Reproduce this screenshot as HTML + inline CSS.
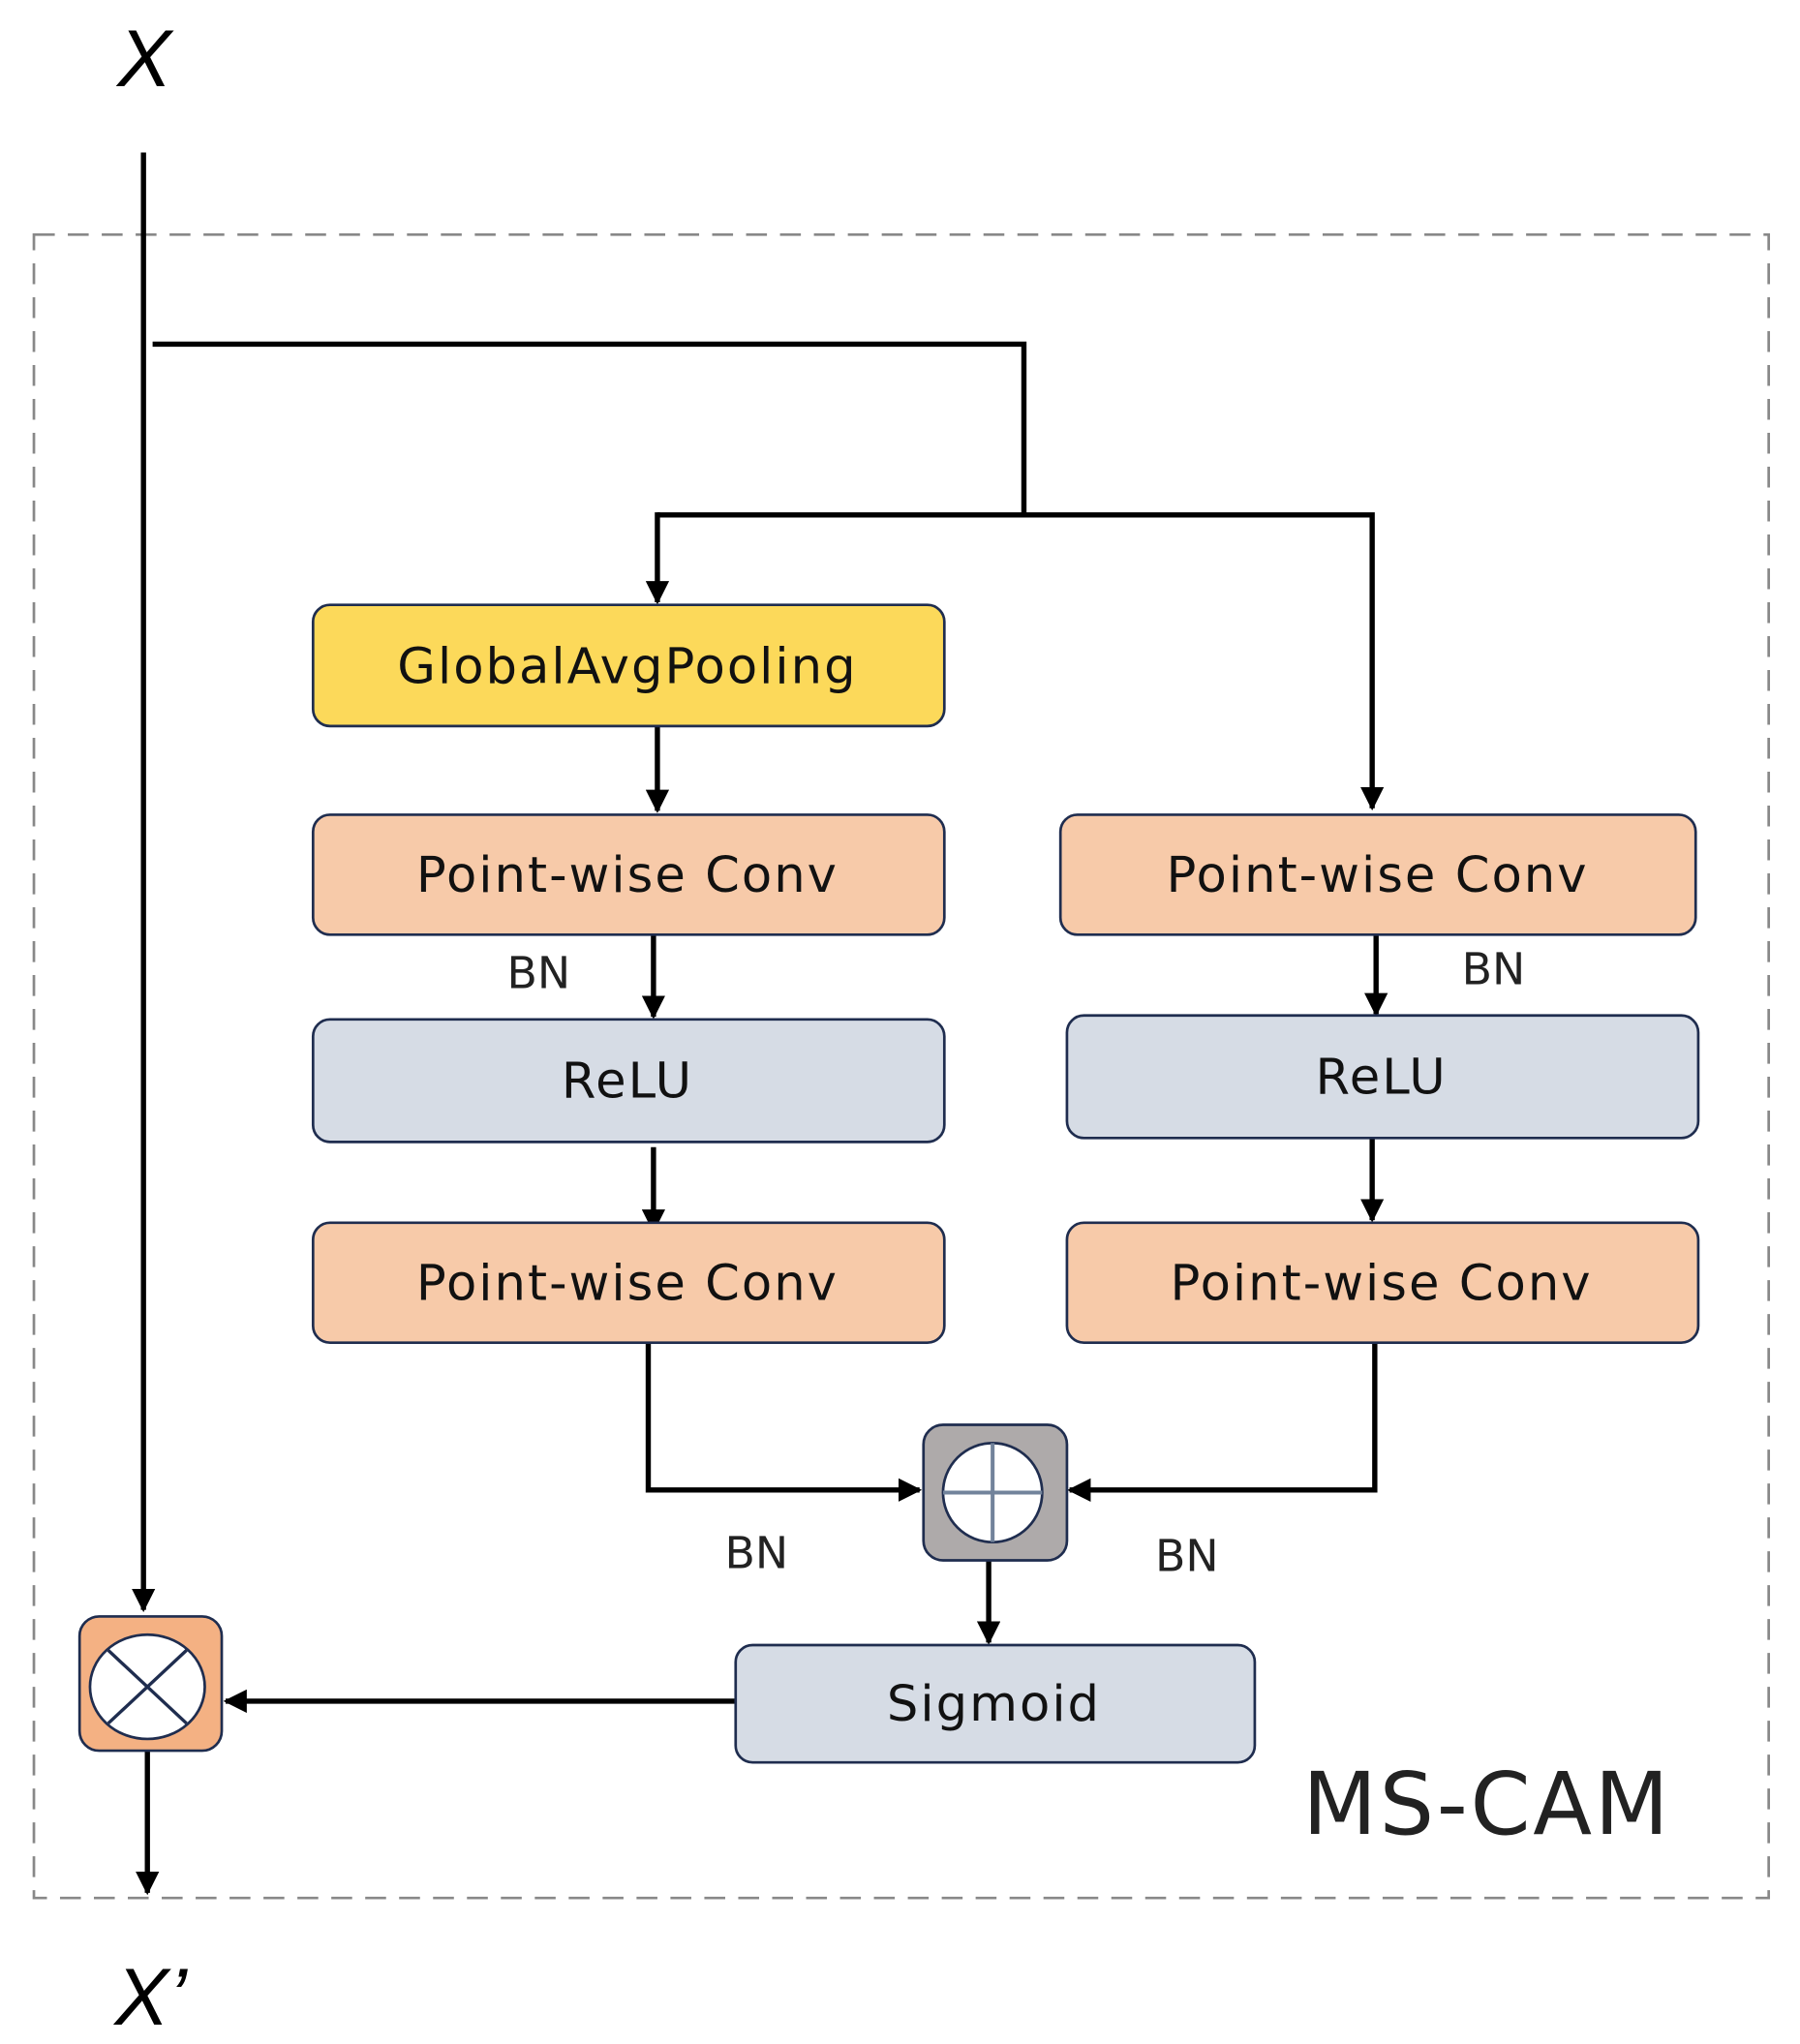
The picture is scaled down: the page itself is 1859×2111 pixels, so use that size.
<!DOCTYPE html>
<html><head><meta charset="utf-8"><style>html,body{margin:0;padding:0;background:#fff}svg{display:block}</style></head><body>
<svg width="1859" height="2111" viewBox="0 0 1380 1568" preserveAspectRatio="none" xmlns="http://www.w3.org/2000/svg" font-family="'DejaVu Sans','Liberation Sans',sans-serif">
<defs><marker id="a" viewBox="0 0 10 10" refX="9" refY="5" markerWidth="4.5" markerHeight="4.5" orient="auto"><path d="M0,0L10,5L0,10z" fill="#000"/></marker></defs>
<rect x="26" y="180" width="1330" height="1276" fill="none" stroke="#888" stroke-width="2" stroke-dasharray="16,10"/>
<text x="90" y="66" font-family="'Liberation Sans',sans-serif" font-style="italic" font-size="62" font-weight="normal">X</text>
<text x="88" y="1553" font-family="'Liberation Sans',sans-serif" font-style="italic" font-size="62">X’</text>
<g stroke="#000" stroke-width="4" fill="none">
<line x1="110" y1="117" x2="110" y2="1235" marker-end="url(#a)"/>
<polyline points="117,264 785,264 785,395"/>
<polyline points="504,395 1052,395 1052,620" marker-end="url(#a)"/>
<line x1="504" y1="393" x2="504" y2="462" marker-end="url(#a)"/>
<line x1="504" y1="557" x2="504" y2="622" marker-end="url(#a)"/>
<line x1="501" y1="717" x2="501" y2="780" marker-end="url(#a)"/>
<line x1="501" y1="880" x2="501" y2="944" marker-end="url(#a)"/>
<line x1="1055" y1="717" x2="1055" y2="778" marker-end="url(#a)"/>
<line x1="1052" y1="873" x2="1052" y2="936" marker-end="url(#a)"/>
<polyline points="497,1030 497,1143 705,1143" marker-end="url(#a)"/>
<polyline points="1054,1030 1054,1143 820,1143" marker-end="url(#a)"/>
<line x1="758" y1="1197" x2="758" y2="1260" marker-end="url(#a)"/>
<line x1="564" y1="1305" x2="173" y2="1305" marker-end="url(#a)"/>
<line x1="113" y1="1343" x2="113" y2="1452" marker-end="url(#a)"/>
</g>
<g stroke="#1f2d4f" stroke-width="2">
<rect x="240" y="464" width="484" height="93" rx="13" fill="#fcd95a"/>
<rect x="240" y="625" width="484" height="92" rx="13" fill="#f7caa9"/>
<rect x="240" y="782" width="484" height="94" rx="13" fill="#d6dce5"/>
<rect x="240" y="938" width="484" height="92" rx="13" fill="#f7caa9"/>
<rect x="813" y="625" width="487" height="92" rx="13" fill="#f7caa9"/>
<rect x="818" y="779" width="484" height="94" rx="13" fill="#d6dce5"/>
<rect x="818" y="938" width="484" height="92" rx="13" fill="#f7caa9"/>
<rect x="564" y="1262" width="398" height="90" rx="13" fill="#d6dce5"/>
<rect x="708" y="1093" width="110" height="104" rx="15" fill="#aeaaaa"/>
<rect x="61" y="1240" width="109" height="103" rx="15" fill="#f4b183"/>
<ellipse cx="761" cy="1145" rx="38" ry="38" fill="#fff"/>
<ellipse cx="113" cy="1294" rx="44" ry="40" fill="#fff"/>
</g>
<g stroke="#72839b" stroke-width="3"><line x1="723" y1="1145" x2="799" y2="1145"/><line x1="761" y1="1107" x2="761" y2="1183"/></g>
<g stroke="#1f2d4f" stroke-width="2.5"><line x1="83" y1="1266" x2="143" y2="1322"/><line x1="143" y1="1266" x2="83" y2="1322"/></g>
<g font-size="38" text-anchor="middle" fill="#111" letter-spacing="1.5">
<text x="481" y="524">GlobalAvgPooling</text>
<text x="481" y="684">Point-wise Conv</text>
<text x="481" y="842">ReLU</text>
<text x="481" y="997">Point-wise Conv</text>
<text x="1056" y="684">Point-wise Conv</text>
<text x="1059" y="839">ReLU</text>
<text x="1059" y="997">Point-wise Conv</text>
<text x="762" y="1320">Sigmoid</text>
</g>
<g font-size="34" text-anchor="middle" fill="#222">
<text x="413" y="758">BN</text><text x="1145" y="755">BN</text><text x="580" y="1203">BN</text><text x="910" y="1205">BN</text>
</g>
<text x="1140" y="1407" font-size="66" text-anchor="middle" fill="#222" letter-spacing="2">MS-CAM</text>
</svg>
</body></html>
